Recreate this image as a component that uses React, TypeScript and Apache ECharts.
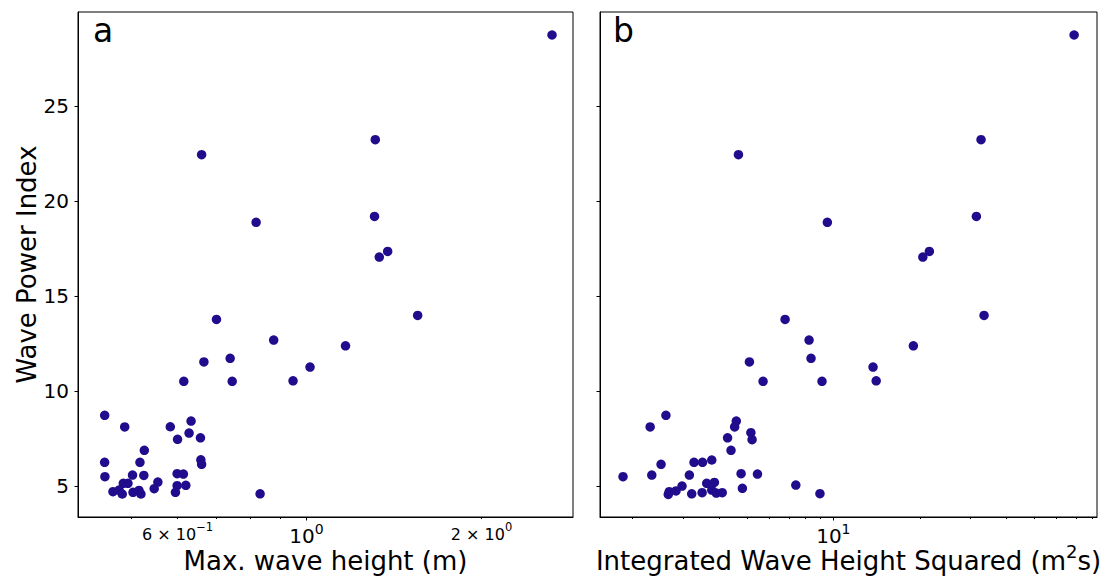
import React, { useEffect, useRef } from "react";
import * as echarts from "echarts";

// Panel a: maximum wave height (m) vs wave power index
const maxWaveHeight = [
  2.644, 1.313, 0.66, 1.309, 0.819, 1.379, 1.334, 1.553, 0.7, 0.878, 1.167, 0.666,
  0.739, 1.014, 0.615, 0.745, 0.948, 0.4496, 0.4867, 0.583, 0.633, 0.628, 0.6, 0.657,
  0.526, 0.4495, 0.517, 0.658, 0.66, 0.45, 0.502, 0.525, 0.599, 0.614, 0.555, 0.484,
  0.493, 0.547, 0.599, 0.62, 0.4646, 0.476, 0.482, 0.503, 0.515, 0.519, 0.595, 0.832,
];
const wpiA = [
  28.74, 23.23, 22.44, 19.19, 18.88, 17.35, 17.05, 13.98, 13.77, 12.68, 12.38, 11.53,
  11.72, 11.26, 10.51, 10.51, 10.54, 8.72, 8.11, 8.12, 8.42, 7.79, 7.46, 7.54,
  6.88, 6.25, 6.25, 6.38, 6.14, 5.49, 5.58, 5.56, 5.65, 5.63, 5.21, 5.14,
  5.14, 4.86, 5.02, 5.04, 4.7, 4.79, 4.58, 4.67, 4.77, 4.58, 4.67, 4.59,
];

// Panel b: integrated wave height squared (m^2 s) vs wave power index
const ihs = [
  69.0, 32.7, 4.67, 31.5, 9.53, 21.6, 20.5, 33.5, 6.79, 8.23, 19.0, 5.1,
  8.36, 5.69, 9.13, 14.1, 13.75, 4.59, 4.53, 2.3, 2.61, 4.28, 5.16, 5.21,
  4.4, 2.51, 3.27, 3.5, 3.77, 1.85, 2.33, 3.15, 4.77, 5.44, 3.62, 3.85,
  2.97, 4.82, 7.4, 2.68, 2.66, 2.83, 3.21, 3.49, 3.77, 3.91, 4.1, 8.98,
];
const wpiB = [
  28.74, 23.23, 22.44, 19.19, 18.88, 17.35, 17.05, 13.98, 13.77, 12.68, 12.38, 11.53,
  11.72, 10.51, 10.51, 10.54, 11.26, 8.42, 8.11, 8.11, 8.72, 7.54, 7.81, 7.44,
  6.88, 6.14, 6.25, 6.25, 6.37, 5.49, 5.58, 5.58, 5.65, 5.63, 5.14, 5.19,
  5.0, 4.88, 5.05, 4.7, 4.56, 4.74, 4.59, 4.65, 4.79, 4.63, 4.65, 4.6,
];

const yTicks = [5, 10, 15, 20, 25];
const yRange = [3.37, 29.95];
const aRange = [0.4045, 2.873];
const bRange = [1.538, 82.9];
const aMajorTicks = [1];
const aMinorTicks = [0.5, 0.6, 0.7, 0.8, 0.9, 2];
const aMinorLabels = [0.6, 2];
const bMajorTicks = [10];
const bMinorTicks = [2, 3, 4, 5, 6, 7, 8, 9, 20, 30, 40, 50, 60, 70, 80];

const FONT = "DejaVu Sans";
const POINT_COLOR = "#200c8c";

function sciLabel(v: number, minor: boolean): string {
  const e = Math.floor(Math.log10(v) + 1e-9);
  const m = Math.round(v / Math.pow(10, e));
  const exp = e < 0 ? "\u2212" + -e : String(e);
  const b = minor ? "mb" : "b";
  const s = minor ? "ms" : "s";
  return m === 1 ? `{${b}|10}{${s}|${exp}}` : `{${b}|${m} × 10}{${s}|${exp}}`;
}

const richStyles = {
  b: { fontFamily: FONT, fontSize: 20, lineHeight: 18, color: "#000", verticalAlign: "bottom" },
  s: { fontFamily: FONT, fontSize: 14, lineHeight: 10, color: "#000", verticalAlign: "bottom", padding: [0, 0, 10, 0] },
  mb: { fontFamily: FONT, fontSize: 16, lineHeight: 18, color: "#000", verticalAlign: "bottom" },
  ms: { fontFamily: FONT, fontSize: 11.5, lineHeight: 11.5, color: "#000", verticalAlign: "bottom", padding: [0, 0, 9, 0] },
};

function majorX(gridIndex: number, range: number[], ticks: number[], name: string, nameRich?: any) {
  return {
    type: "log",
    logBase: 10,
    gridIndex,
    position: "bottom",
    min: range[0],
    max: range[1],
    name,
    nameLocation: "middle",
    nameGap: 31,
    nameMoveOverlap: false,
    nameTextStyle: { fontFamily: FONT, fontSize: 26, lineHeight: 26, color: "#000", rich: nameRich },
    axisLine: { show: true, lineStyle: { color: "#000", width: 1 } },
    axisTick: { show: true, length: 3.5, customValues: ticks, lineStyle: { color: "#000", width: 1 } },
    axisLabel: {
      show: true,
      customValues: ticks,
      margin: 11,
      formatter: (v: number) => sciLabel(v, false),
      rich: richStyles,
    },
    splitLine: { show: false },
  };
}

function minorX(gridIndex: number, range: number[], ticks: number[], labels: number[]) {
  return {
    type: "log",
    logBase: 10,
    gridIndex,
    position: "bottom",
    min: range[0],
    max: range[1],
    axisLine: { show: false },
    axisTick: { show: true, length: 2, customValues: ticks, lineStyle: { color: "#000", width: 1 } },
    axisLabel: {
      show: labels.length > 0,
      customValues: labels,
      margin: 7,
      formatter: (v: number) => sciLabel(v, true),
      rich: richStyles,
    },
    splitLine: { show: false },
  };
}

function yAxis(gridIndex: number, showLabels: boolean) {
  return {
    type: "value",
    gridIndex,
    min: yRange[0],
    max: yRange[1],
    name: showLabels ? "Wave Power Index" : "",
    nameLocation: "middle",
    nameGap: 38,
    nameMoveOverlap: false,
    nameTextStyle: { fontFamily: FONT, fontSize: 26, color: "#000" },
    axisLine: { show: true, lineStyle: { color: "#000", width: 1 } },
    axisTick: { show: true, length: 3.5, customValues: yTicks, lineStyle: { color: "#000", width: 1 } },
    axisLabel: {
      show: showLabels,
      customValues: yTicks,
      margin: 9,
      fontFamily: FONT,
      fontSize: 20,
      color: "#000",
    },
    splitLine: { show: false },
  };
}

export default function App() {
  const ref = useRef<HTMLDivElement>(null);
  useEffect(() => {
    if (!ref.current) return;
    const chart = echarts.init(ref.current, null, { renderer: "svg" });
    const option = {
      animation: false,
      backgroundColor: "#fff",
      grid: [
        { left: 78, top: 12, width: 495, height: 505, outerBoundsMode: "none", containLabel: false, show: true, borderColor: "#000", borderWidth: 1, backgroundColor: "transparent" },
        { left: 600, top: 12, width: 497, height: 505, outerBoundsMode: "none", containLabel: false, show: true, borderColor: "#000", borderWidth: 1, backgroundColor: "transparent" },
      ],
      xAxis: [
        majorX(0, aRange, aMajorTicks, "Max. wave height (m)"),
        minorX(0, aRange, aMinorTicks, aMinorLabels),
        majorX(1, bRange, bMajorTicks, "Integrated Wave Height Squared (m{sup|2}s)", {
          sup: { fontFamily: FONT, fontSize: 18, color: "#000", verticalAlign: "bottom", lineHeight: 12, padding: [0, 0, 14, 0] },
        }),
        minorX(1, bRange, bMinorTicks, []),
      ],
      yAxis: [yAxis(0, true), yAxis(1, false)],
      graphic: [
        { type: "text", left: 93, top: 14, style: { text: "a", fontFamily: FONT, fontSize: 33, fill: "#000" } },
        { type: "text", left: 613, top: 14, style: { text: "b", fontFamily: FONT, fontSize: 33, fill: "#000" } },
      ],
      series: [
        {
          type: "scatter",
          xAxisIndex: 0,
          yAxisIndex: 0,
          symbolSize: 9.5,
          itemStyle: { color: POINT_COLOR, opacity: 1 },
          data: maxWaveHeight.map((x, i) => [x, wpiA[i]]),
        },
        {
          type: "scatter",
          xAxisIndex: 2,
          yAxisIndex: 1,
          symbolSize: 9.5,
          itemStyle: { color: POINT_COLOR, opacity: 1 },
          data: ihs.map((x, i) => [x, wpiB[i]]),
        },
      ],
    };
    chart.setOption(option as any);
    return () => chart.dispose();
  }, []);
  return <div ref={ref} style={{ position: "fixed", left: 0, top: 0, width: 1107, height: 576 }} />;
}
